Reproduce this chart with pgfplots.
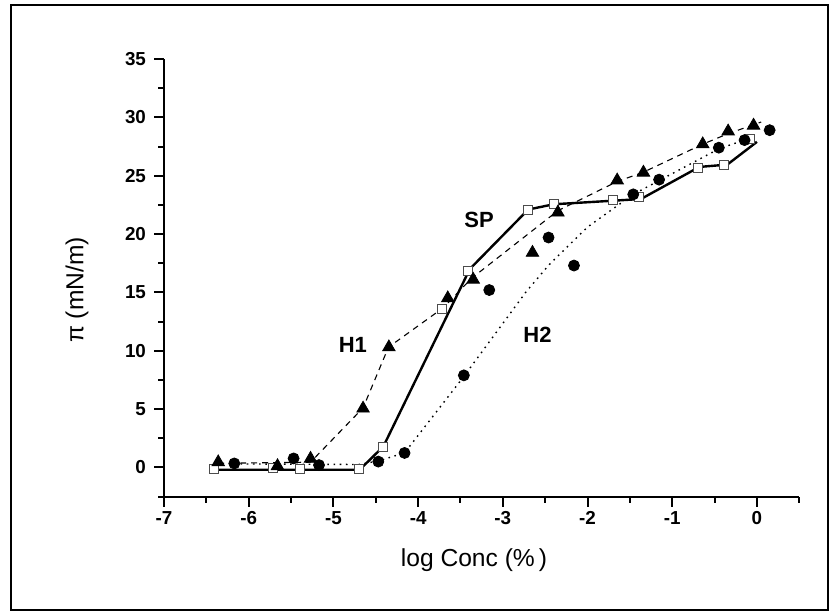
\documentclass[border=0pt]{standalone}
\usepackage{fontspec}
\setmainfont{Liberation Sans}
\usepackage{pgfplots}
\pgfplotsset{compat=1.18}
\begin{document}
\begin{tikzpicture}
\useasboundingbox (0,0) rectangle (417.5pt,307.5pt);
\draw[line width=1pt] (5.5pt,2.5pt) rectangle (414pt,305pt);
\begin{axis}[
 at={(82pt,59.2pt)}, anchor=south west,
 scale only axis, width=317.65pt, height=218.8pt,
 xmin=-7, xmax=0.5, ymin=-2.5, ymax=35,
 axis lines=left, axis line style={-, line width=1pt},
 clip=false,
 tick align=outside,
 major tick length=5pt, minor tick length=3pt,
 every tick/.style={black, line width=1pt},
 xtick={-7,-6,-5,-4,-3,-2,-1,0},
 xticklabels={-7,-6,-5,-4,-3,-2,-1,0},
 minor xtick={-6.5,-5.5,-4.5,-3.5,-2.5,-1.5,-0.5,0.5},
 ytick={0,5,10,15,20,25,30,35},
 yticklabels={0,5,10,15,20,25,30,35},
 minor ytick={-2.5,2.5,7.5,12.5,17.5,22.5,27.5,32.5},
 tick label style={font=\bfseries\fontsize{9.4}{11}\selectfont},
 xticklabel style={yshift=1pt},
 yticklabel style={xshift=-0.5pt},
 /pgf/number format/assume math mode=true,
 xlabel={log Conc (\%\,)},
 ylabel={π (mN/m)},
 label style={font=\fontsize{12.3}{14}\selectfont},
 xlabel style={at={(axis description cs:0.488,-0.145)}, anchor=center},
 ylabel style={at={(axis description cs:-0.137,0.472)}, anchor=center},
]
% SP line
\addplot[black, line width=1.2pt, mark=none] coordinates {
(-6.41,-0.2) (-4.69,-0.2) (-4.41,1.8) (-3.39,17.0) (-2.70,22.1) (-2.40,22.55)
(-1.37,23.0) (-0.68,25.75) (-0.35,25.95) (0.0,27.9)};
% H1 line
\addplot[black, line width=0.55pt, dash pattern=on 3pt off 2.5pt, mark=none] coordinates {
(-6.36,0.35) (-5.27,0.45) (-4.65,5.1) (-4.35,10.3) (-3.70,13.7) (-3.37,16.2)
(-2.35,22.0) (-1.65,24.5) (-1.34,25.3) (-0.64,27.7) (-0.34,28.6) (0.05,29.6)};
% H2 line
\addplot[black, line width=0.7pt, dash pattern=on 0.8pt off 2.3pt, mark=none] coordinates {
(-6.17,0.3) (-4.7,0.25) (-4.47,0.55) (-4.16,1.25) (-3.47,7.7) (-2.72,15.1)
(-2.45,17.4) (-2.0,20.6) (-1.46,23.4) (-0.45,27.3) (-0.15,28.05) (-0.05,28.4)};
% SP markers
\addplot[only marks, mark=square*, mark size=2.25pt, mark options={fill=white, draw=black!70, line width=0.5pt}] coordinates {
(-6.41,-0.17) (-5.71,-0.07) (-5.40,-0.13) (-4.70,-0.13) (-4.41,1.78) (-3.715,13.6)
(-3.41,16.8) (-2.70,22.06) (-2.40,22.55) (-1.70,22.9) (-1.39,23.15) (-0.69,25.7)
(-0.39,25.95) (-0.08,28.15)};
% H1 markers
\addplot[only marks, mark=triangle*, mark size=3.6pt, mark options={fill=black, draw=black}] coordinates {
(-6.36,0.45) (-5.66,0.12) (-5.27,0.75) (-4.65,5.05) (-4.345,10.3) (-3.65,14.5)
(-3.35,16.1) (-2.65,18.4) (-2.35,21.85) (-1.65,24.6) (-1.34,25.27) (-0.64,27.7)
(-0.34,28.8) (-0.04,29.3)};
% H2 markers
\addplot[only marks, mark=*, mark size=2.75pt, mark options={fill=black, draw=black}] coordinates {
(-6.17,0.34) (-5.47,0.77) (-5.17,0.2) (-4.47,0.5) (-4.16,1.24) (-3.46,7.89)
(-3.16,15.2) (-2.46,19.7) (-2.16,17.3) (-1.46,23.4) (-1.155,24.66) (-0.45,27.4)
(-0.146,28.05) (0.15,28.9)};
\node[font=\bfseries\fontsize{11}{13}\selectfont] at (axis cs:-3.28,21.2) {SP};
\node[font=\bfseries\fontsize{11}{13}\selectfont] at (axis cs:-4.77,10.5) {H1};
\node[font=\bfseries\fontsize{11}{13}\selectfont] at (axis cs:-2.59,11.4) {H2};
\end{axis}
\end{tikzpicture}
\end{document}
